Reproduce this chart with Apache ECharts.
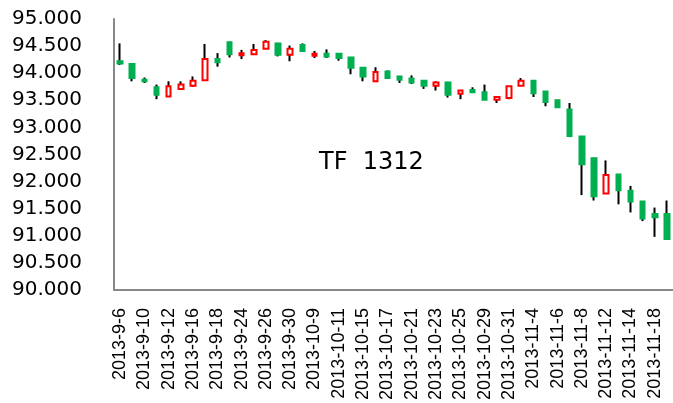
<!DOCTYPE html>
<html>
<head>
<meta charset="utf-8">
<script src="https://cdn.jsdelivr.net/npm/echarts@6/dist/echarts.min.js"></script>
<style>html,body{margin:0;padding:0;background:#fff}#c{width:673px;height:403px}</style>
</head>
<body>
<div id="c"></div>
<script>
var dates = ['2013-9-6','2013-9-9','2013-9-10','2013-9-11','2013-9-12','2013-9-13','2013-9-16','2013-9-17','2013-9-18','2013-9-23','2013-9-24','2013-9-25','2013-9-26','2013-9-27','2013-9-30','2013-10-8','2013-10-9','2013-10-10','2013-10-11','2013-10-14','2013-10-15','2013-10-16','2013-10-17','2013-10-18','2013-10-21','2013-10-22','2013-10-23','2013-10-24','2013-10-25','2013-10-28','2013-10-29','2013-10-30','2013-10-31','2013-11-1','2013-11-4','2013-11-5','2013-11-6','2013-11-7','2013-11-8','2013-11-11','2013-11-12','2013-11-13','2013-11-14','2013-11-15','2013-11-18','2013-11-19'];
var openV  = [94.22,94.17,93.88,93.74,93.57,93.71,93.77,93.87,94.26,94.57,94.33,94.35,94.45,94.55,94.34,94.52,94.32,94.36,94.36,94.29,94.10,93.85,94.03,93.94,93.90,93.86,93.77,93.83,93.62,93.69,93.65,93.51,93.54,93.77,93.86,93.66,93.50,93.33,92.83,92.43,91.78,92.13,91.83,91.63,91.40,91.40];
var closeV = [94.18,93.91,93.85,93.60,93.76,93.79,93.86,94.26,94.20,94.35,94.37,94.43,94.58,94.34,94.45,94.41,94.36,94.31,94.28,94.10,93.94,94.02,93.91,93.88,93.83,93.77,93.83,93.60,93.68,93.65,93.51,93.56,93.76,93.86,93.63,93.47,93.37,92.84,92.32,91.73,92.12,91.84,91.63,91.32,91.34,90.94];
var lowV   = [94.15,93.85,93.82,93.52,93.57,93.70,93.75,93.87,94.12,94.29,94.26,94.35,94.45,94.31,94.22,94.41,94.28,94.28,94.23,93.98,93.85,93.85,93.91,93.82,93.80,93.71,93.68,93.55,93.52,93.65,93.51,93.45,93.52,93.77,93.56,93.39,93.36,92.82,91.75,91.65,91.78,91.58,91.43,91.27,90.98,90.94];
var highV  = [94.55,94.17,93.92,93.79,93.85,93.85,93.94,94.54,94.37,94.58,94.43,94.54,94.61,94.56,94.51,94.55,94.41,94.44,94.37,94.30,94.11,94.11,94.05,93.95,93.96,93.87,93.85,93.84,93.68,93.74,93.79,93.58,93.76,93.91,93.87,93.67,93.51,93.45,92.84,92.44,92.39,92.14,91.92,91.64,91.52,91.65];
var yTicks = [90,90.5,91,91.5,92,92.5,93,93.5,94,94.5,95];
var titleText = 'TF  1312';

var wickData = dates.map(function(d,i){return [openV[i],closeV[i],lowV[i],highV[i]];});
var bodyData = dates.map(function(d,i){return [openV[i],closeV[i],Math.min(openV[i],closeV[i]),Math.max(openV[i],closeV[i])];});

var chart = echarts.init(document.getElementById('c'), null, {renderer:'canvas'});
chart.setOption({
  animation:false,
  backgroundColor:'#fff',
  title:{text:titleText,left:314,top:146,textStyle:{fontFamily:'DejaVu Sans',fontSize:24,fontWeight:'normal',color:'#000'}},
  grid:{left:114,top:19,height:272,width:563},
  xAxis:{type:'category',data:dates,boundaryGap:true,
    axisLine:{lineStyle:{color:'#888',width:2}},axisTick:{show:false},
    axisLabel:{interval:1,rotate:90,margin:18,fontFamily:'Liberation Sans',fontSize:18,color:'#000'}},
  yAxis:{type:'value',min:yTicks[0],max:yTicks[yTicks.length-1],interval:0.5,
    axisLine:{show:true,lineStyle:{color:'#888',width:2}},axisTick:{show:false},splitLine:{show:false},
    axisLabel:{margin:32,fontFamily:'DejaVu Sans',fontSize:20,color:'#000',formatter:function(v){return v.toFixed(3);}}},
  series:[
    {type:'candlestick',data:wickData,barWidth:1,barMaxWidth:1,barMinWidth:1,
      itemStyle:{color:'#000',color0:'#000',borderColor:'#000',borderColor0:'#000',borderWidth:2}},
    {type:'candlestick',data:bodyData,barWidth:5,barMaxWidth:5,barMinWidth:5,
      itemStyle:{color:'#fff',color0:'#00B050',borderColor:'#FF0000',borderColor0:'#00B050',borderWidth:2}}
  ]
});
</script>
</body>
</html>
